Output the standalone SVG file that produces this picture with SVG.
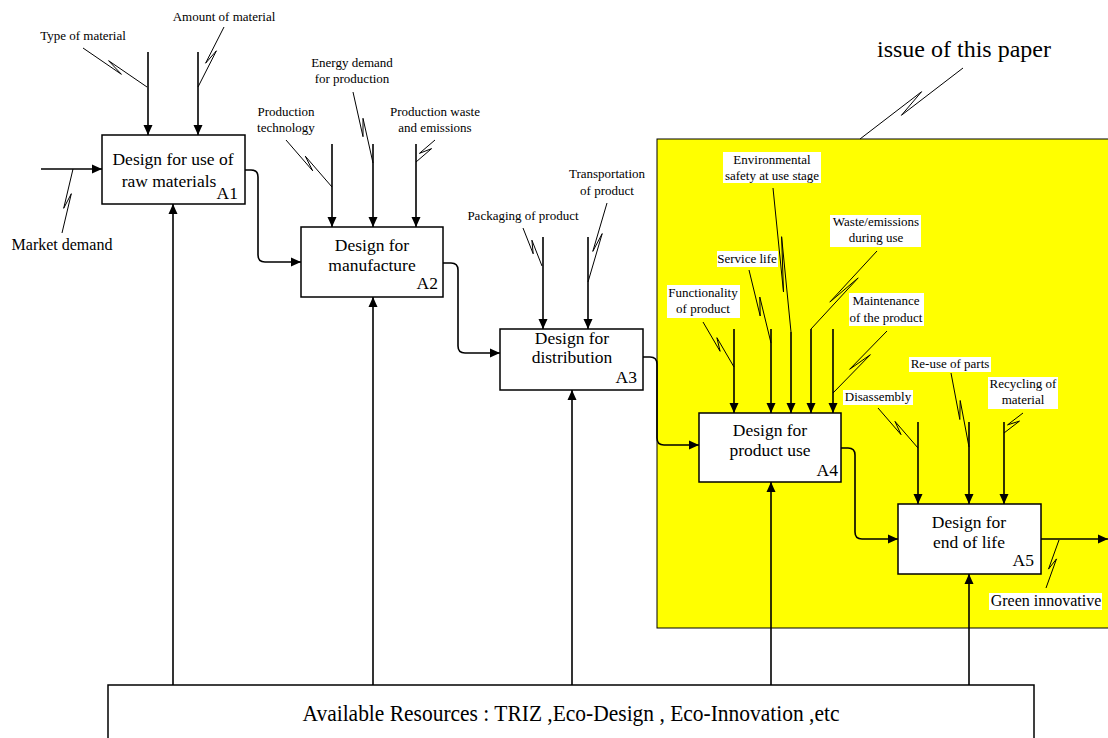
<svg xmlns="http://www.w3.org/2000/svg" width="1108" height="738" viewBox="0 0 1108 738">
<style>
.box{fill:#fff;stroke:#000;stroke-width:1.5}
.ln{fill:none;stroke:#000;stroke-width:1.6}
.sq{fill:none;stroke:#000;stroke-width:1}
.t{font-family:"Liberation Serif","Times New Roman",serif;fill:#000}
.nt{font-size:17.5px;text-anchor:middle}
.id{font-size:17.5px;text-anchor:end}
.lb{font-size:13px;text-anchor:middle}
.wb{fill:#fff;stroke:none}
</style>
<defs>
<marker id="ah" viewBox="0 0 10 10" refX="10" refY="5" markerWidth="10" markerHeight="10" markerUnits="userSpaceOnUse" orient="auto">
<path d="M0,0.5 L10,5 L0,9.5 z" fill="#000"/>
</marker>
</defs>
<rect width="1108" height="738" fill="#fff"/>
<rect id="scope" x="657" y="139" width="460" height="489" fill="#ffff00" stroke="#000" stroke-width="1"/>

<g id="connectors">
<line class="ln" x1="148" y1="52" x2="148" y2="135" marker-end="url(#ah)"/>
<line class="ln" x1="198" y1="52" x2="198" y2="135" marker-end="url(#ah)"/>
<line class="ln" x1="41" y1="169" x2="102" y2="169" marker-end="url(#ah)"/>
<line class="ln" x1="332" y1="144" x2="332" y2="227" marker-end="url(#ah)"/>
<line class="ln" x1="373" y1="144" x2="373" y2="227" marker-end="url(#ah)"/>
<line class="ln" x1="416" y1="144" x2="416" y2="227" marker-end="url(#ah)"/>
<line class="ln" x1="543" y1="237" x2="543" y2="329" marker-end="url(#ah)"/>
<line class="ln" x1="588" y1="237" x2="588" y2="329" marker-end="url(#ah)"/>
<line class="ln" x1="734" y1="329" x2="734" y2="413" marker-end="url(#ah)"/>
<line class="ln" x1="771" y1="329" x2="771" y2="413" marker-end="url(#ah)"/>
<line class="ln" x1="791" y1="332" x2="791" y2="413" marker-end="url(#ah)"/>
<line class="ln" x1="811" y1="329" x2="811" y2="413" marker-end="url(#ah)"/>
<line class="ln" x1="833" y1="329" x2="833" y2="413" marker-end="url(#ah)"/>
<line class="ln" x1="918" y1="422" x2="918" y2="504" marker-end="url(#ah)"/>
<line class="ln" x1="969" y1="422" x2="969" y2="504" marker-end="url(#ah)"/>
<line class="ln" x1="1004" y1="422" x2="1004" y2="504" marker-end="url(#ah)"/>
<path class="ln" d="M245,170 H251 Q258,170 258,177 V255 Q258,262 265,262 H301" marker-end="url(#ah)"/>
<path class="ln" d="M443,263 H451 Q458,263 458,270 V346 Q458,353 465,353 H500" marker-end="url(#ah)"/>
<path class="ln" d="M643,357 H650 Q657,357 657,364 V438 Q657,445 664,445 H699" marker-end="url(#ah)"/>
<path class="ln" d="M841,448 H848 Q855,448 855,455 V532 Q855,539 862,539 H898" marker-end="url(#ah)"/>
<line class="ln" x1="1041" y1="539" x2="1108" y2="539" marker-end="url(#ah)"/>
<line class="ln" x1="173" y1="685" x2="173" y2="204" marker-end="url(#ah)"/>
<line class="ln" x1="373" y1="685" x2="373" y2="297" marker-end="url(#ah)"/>
<line class="ln" x1="572" y1="685" x2="572" y2="390" marker-end="url(#ah)"/>
<line class="ln" x1="771" y1="685" x2="771" y2="482" marker-end="url(#ah)"/>
<line class="ln" x1="969" y1="685" x2="969" y2="574" marker-end="url(#ah)"/>
<path class="sq" d="M83,48 L121.4,74.3 L108.6,60.7 L147,87"/>
<path class="sq" d="M224,27 L205.6,63.2 L216.4,50.8 L198,87"/>
<path class="sq" d="M62,233 L71.3,193.7 L63.7,208.3 L73,169"/>
<path class="sq" d="M286,140 L312.7,170.8 L305.3,156.2 L332,187"/>
<path class="sq" d="M353,92 L363,136.7 L363,118.3 L373,163"/>
<path class="sq" d="M435,140 L419.4,153.4 L431.6,148.6 L416,162"/>
<path class="sq" d="M523,228 L533.2,253.8 L531.9,240.2 L542,266"/>
<path class="sq" d="M607,203 L592.8,251.4 L602.2,233.6 L588,282"/>
<path class="sq" d="M963,68 L901.4,115.3 L921.6,91.7 L860,139"/>
<path class="sq" d="M703,322 L720.1,351.3 L716.9,337.7 L734,367"/>
<path class="sq" d="M749,270 L760.2,316 L759.8,297 L771,343"/>
<path class="sq" d="M773,188 L783.5,292 L781.6,236.7 L791,332"/>
<path class="sq" d="M877,251 L829.8,302.1 L858.2,277.9 L811,329"/>
<path class="sq" d="M887,331 L849.6,369.3 L870.4,354.7 L833,393"/>
<path class="sq" d="M878,408 L901,434.6 L895,421.4 L918,448"/>
<path class="sq" d="M951,373 L959.8,419.5 L960.2,400.5 L969,447"/>
<path class="sq" d="M1023,413 L1007.5,424.9 L1019.5,421.1 L1004,433"/>
<path class="sq" d="M1046,588 L1056.5,558.9 L1048.5,569.1 L1059,540"/>
</g>

<g id="A1">
<rect class="box" x="102" y="135" width="143" height="69"/>
<text class="t nt"><tspan x="173" y="165">Design for use of</tspan><tspan x="169" y="187">raw materials</tspan></text>
<text class="t id" x="238" y="199">A1</text>
</g>
<g id="A2">
<rect class="box" x="301" y="227" width="142" height="70"/>
<text class="t nt"><tspan x="372" y="251">Design for</tspan><tspan x="372" y="271">manufacture</tspan></text>
<text class="t id" x="438" y="289">A2</text>
</g>
<g id="A3">
<rect class="box" x="500" y="329" width="143" height="61"/>
<text class="t nt"><tspan x="572" y="344">Design for</tspan><tspan x="572" y="363">distribution</tspan></text>
<text class="t id" x="637" y="383">A3</text>
</g>
<g id="A4">
<rect class="box" x="699" y="413" width="142" height="69"/>
<text class="t nt"><tspan x="770" y="436">Design for</tspan><tspan x="770" y="456">product use</tspan></text>
<text class="t id" x="838" y="476">A4</text>
</g>
<g id="A5">
<rect class="box" x="898" y="504" width="143" height="70"/>
<text class="t nt"><tspan x="969" y="528">Design for</tspan><tspan x="969" y="548">end of life</tspan></text>
<text class="t id" x="1034" y="566">A5</text>
</g>
<g id="resources">
<rect class="box" x="108" y="685" width="926" height="70"/>
<text class="t" x="571" y="721" font-size="23" text-anchor="middle" textLength="537" lengthAdjust="spacingAndGlyphs">Available Resources : TRIZ ,Eco-Design , Eco-Innovation ,etc</text>
</g>

<g id="labels">
<text class="t lb" x="83" y="40">Type of material</text>
<text class="t lb" x="224" y="21">Amount of material</text>
<text class="t" x="62" y="250" font-size="16" text-anchor="middle">Market demand</text>
<text class="t lb"><tspan x="286" y="116">Production</tspan><tspan x="286" y="132">technology</tspan></text>
<text class="t lb"><tspan x="352" y="67">Energy demand</tspan><tspan x="352" y="83">for production</tspan></text>
<text class="t lb"><tspan x="435" y="116">Production waste</tspan><tspan x="435" y="132">and emissions</tspan></text>
<text class="t lb" x="523" y="220">Packaging of product</text>
<text class="t lb"><tspan x="607" y="178">Transportation</tspan><tspan x="607" y="195">of product</tspan></text>
<text class="t" x="964" y="57" font-size="24" text-anchor="middle">issue of this paper</text>

<rect class="wb" x="723" y="152" width="98" height="31"/>
<text class="t lb"><tspan x="772" y="164">Environmental</tspan><tspan x="772" y="180">safety at use stage</tspan></text>
<rect class="wb" x="830" y="215" width="91" height="32"/>
<text class="t lb"><tspan x="876" y="226">Waste/emissions</tspan><tspan x="876" y="242">during use</tspan></text>
<rect class="wb" x="717" y="251" width="61" height="16"/>
<text class="t lb" x="747" y="263">Service life</text>
<rect class="wb" x="667" y="285" width="73" height="33"/>
<text class="t lb"><tspan x="703" y="297">Functionality</tspan><tspan x="703" y="313">of product</tspan></text>
<rect class="wb" x="849" y="293" width="75" height="33"/>
<text class="t lb"><tspan x="886" y="305">Maintenance</tspan><tspan x="886" y="322">of the product</tspan></text>
<rect class="wb" x="843" y="390" width="70" height="15"/>
<text class="t lb" x="878" y="401">Disassembly</text>
<rect class="wb" x="909" y="357" width="82" height="15"/>
<text class="t lb" x="950" y="368">Re-use of parts</text>
<rect class="wb" x="988" y="377" width="70" height="32"/>
<text class="t lb"><tspan x="1023" y="388">Recycling of</tspan><tspan x="1023" y="404">material</tspan></text>
<rect class="wb" x="989" y="593" width="113" height="17"/>
<text class="t" x="1046" y="606" font-size="16" text-anchor="middle">Green innovative</text>
</g>
</svg>
